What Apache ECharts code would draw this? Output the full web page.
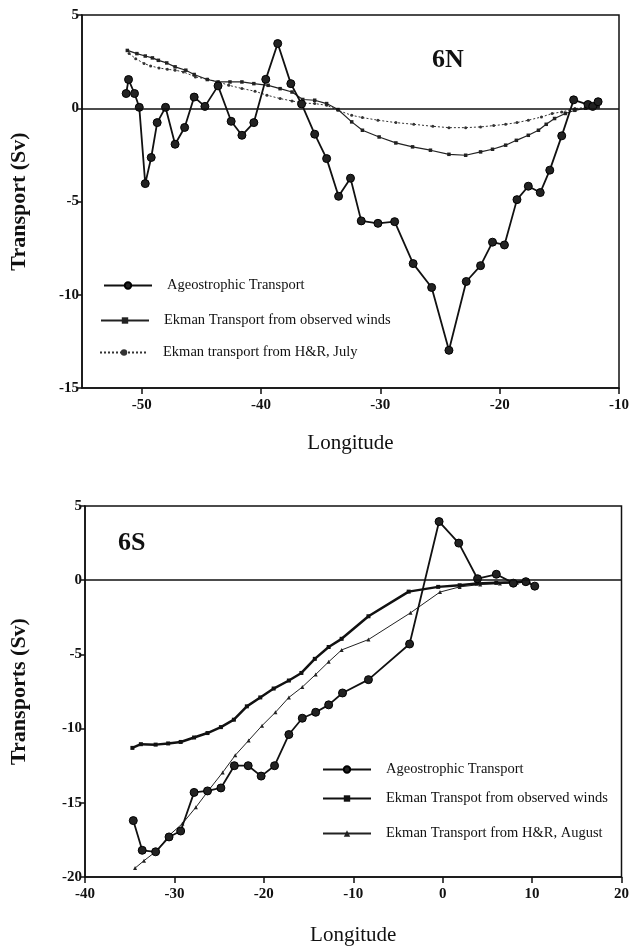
<!DOCTYPE html>
<html>
<head>
<meta charset="utf-8">
<script src="https://cdn.jsdelivr.net/npm/echarts@6/dist/echarts.min.js"></script>
<style>html,body{margin:0;padding:0;background:#fff;}#c{width:632px;height:950px;}</style>
</head>
<body>
<div id="c"></div>
<script>
// ---- 6N panel ----
const lonAgeoN = [-51.3, -51.1, -50.6, -50.2, -49.7, -49.2, -48.7, -48.0, -47.2, -46.4, -45.6, -44.7, -43.6, -42.5, -41.6, -40.6, -39.6, -38.6, -37.5, -36.6, -35.5, -34.5, -33.5, -32.5, -31.6, -30.2, -28.8, -27.25, -25.7, -24.25, -22.8, -21.6, -20.6, -19.6, -18.55, -17.6, -16.6, -15.8, -14.8, -13.8, -12.6, -12.2, -11.75];
const valAgeoN = [0.79, 1.54, 0.79, 0.05, -4.04, -2.64, -0.77, 0.05, -1.93, -1.03, 0.6, 0.1, 1.2, -0.7, -1.45, -0.77, 1.55, 3.47, 1.32, 0.23, -1.39, -2.7, -4.72, -3.75, -6.04, -6.17, -6.08, -8.33, -9.61, -12.98, -9.29, -8.44, -7.18, -7.33, -4.9, -4.18, -4.52, -3.32, -1.48, 0.45, 0.2, 0.1, 0.35];

const lonObsN = [-51.2, -50.4, -49.7, -49.1, -48.6, -47.9, -47.2, -46.3, -45.6, -44.5, -43.6, -42.6, -41.6, -40.6, -39.4, -38.4, -37.4, -36.5, -35.5, -34.5, -33.55, -32.4, -31.5, -30.1, -28.7, -27.3, -25.8, -24.25, -22.85, -21.6, -20.6, -19.5, -18.6, -17.6, -16.75, -16.1, -15.4, -14.5, -13.7, -12.8, -11.75];
const valObsN = [3.1, 2.93, 2.8, 2.7, 2.57, 2.43, 2.22, 2.04, 1.81, 1.54, 1.41, 1.41, 1.41, 1.32, 1.23, 1.05, 0.87, 0.47, 0.43, 0.25, -0.07, -0.73, -1.18, -1.54, -1.86, -2.07, -2.25, -2.47, -2.52, -2.34, -2.2, -1.98, -1.72, -1.45, -1.18, -0.86, -0.55, -0.28, -0.11, 0.0, 0.07];

const lonHRN = [-51.05, -50.5, -49.8, -49.25, -48.55, -47.85, -47.2, -46.5, -45.5, -44.5, -43.55, -42.7, -41.6, -40.5, -39.5, -38.4, -37.4, -36.5, -35.5, -34.5, -33.55, -32.4, -31.5, -30.2, -28.7, -27.2, -25.6, -24.25, -22.85, -21.6, -20.5, -19.5, -18.55, -17.6, -16.5, -15.6, -14.8, -13.7, -12.7, -11.75];
const valHRN = [2.93, 2.66, 2.4, 2.27, 2.16, 2.09, 2.04, 1.95, 1.68, 1.56, 1.41, 1.23, 1.06, 0.91, 0.7, 0.52, 0.39, 0.28, 0.25, 0.16, -0.11, -0.38, -0.5, -0.64, -0.77, -0.86, -0.97, -1.04, -1.04, -1.0, -0.93, -0.86, -0.77, -0.64, -0.47, -0.28, -0.2, -0.02, 0.05, 0.1];

// ---- 6S panel ----
const lonAgeoS = [-34.6, -33.6, -32.1, -30.6, -29.3, -27.8, -26.3, -24.8, -23.3, -21.75, -20.3, -18.8, -17.2, -15.7, -14.2, -12.75, -11.2, -8.3, -3.7, -0.4, 1.8, 3.9, 6.0, 7.9, 9.3, 10.3];
const valAgeoS = [-16.2, -18.2, -18.3, -17.3, -16.9, -14.3, -14.2, -14.0, -12.5, -12.5, -13.2, -12.5, -10.4, -9.3, -8.9, -8.4, -7.6, -6.7, -4.3, 3.95, 2.5, 0.1, 0.4, -0.2, -0.1, -0.4];

const lonObsS = [-34.7, -33.75, -32.1, -30.7, -29.3, -27.8, -26.3, -24.8, -23.35, -21.9, -20.4, -18.9, -17.2, -15.8, -14.3, -12.75, -11.3, -8.3, -3.8, -0.5, 1.9, 3.8, 6.0, 7.9, 9.4];
const valObsS = [-11.3, -11.05, -11.08, -11.0, -10.9, -10.6, -10.3, -9.9, -9.4, -8.5, -7.9, -7.3, -6.76, -6.25, -5.3, -4.5, -3.95, -2.43, -0.77, -0.45, -0.34, -0.23, -0.18, -0.14, -0.05];

const lonHRS = [-34.4, -33.4, -31.9, -30.6, -29.1, -27.6, -26.1, -24.6, -23.2, -21.7, -20.2, -18.7, -17.2, -15.7, -14.2, -12.75, -11.3, -8.3, -3.6, -0.3, 1.9, 4.2, 6.4, 8.3, 9.7];
const valHRS = [-19.4, -18.9, -18.2, -17.2, -16.4, -15.3, -14.1, -12.95, -11.8, -10.8, -9.8, -8.9, -7.9, -7.2, -6.35, -5.5, -4.7, -4.0, -2.2, -0.8, -0.45, -0.29, -0.23, -0.18, -0.1];

const xTicksN = [-50, -40, -30, -20, -10];
const xTicksS = [-40, -30, -20, -10, 0, 10, 20];

const NAME_AGEO = 'Ageostrophic Transport';
const NAME_OBS_N = 'Ekman Transport from observed winds';
const NAME_HR_N = 'Ekman transport from H&R, July';
const NAME_OBS_S = 'Ekman Transpot from observed winds';
const NAME_HR_S = 'Ekman Transport from H&R, August';

function pairs(xs, ys) { return xs.map((x, i) => [x, ys[i]]); }

const FONT = '"Liberation Serif", "DejaVu Serif", serif';
const BLACK = '#111';

function xAxisDef(gi, min, max, ticks, nameGap) {
  return {
    type: 'value', gridIndex: gi, min: min, max: max,
    name: 'Longitude', nameLocation: 'middle', nameGap: nameGap,
    nameTextStyle: { fontFamily: FONT, fontSize: 21, color: BLACK },
    axisLine: { show: true, onZero: false, lineStyle: { color: BLACK, width: 1.5 } },
    axisTick: { show: true, inside: false, length: 6, customValues: ticks, lineStyle: { color: BLACK, width: 1.5 } },
    axisLabel: { customValues: ticks, margin: 10, fontFamily: FONT, fontWeight: 'bold', fontSize: 15, color: BLACK },
    splitLine: { show: false }
  };
}
function yAxisDef(gi, min, max, name, nameGap) {
  return {
    type: 'value', gridIndex: gi, min: min, max: max, interval: 5,
    name: name, nameLocation: 'middle', nameGap: nameGap, nameRotate: 90,
    nameTextStyle: { fontFamily: FONT, fontSize: 22, fontWeight: 'bold', color: BLACK },
    axisLine: { show: true, onZero: false, lineStyle: { color: BLACK, width: 1.5 } },
    axisTick: { show: true, inside: false, length: 4, lineStyle: { color: BLACK, width: 1.5 } },
    axisLabel: { margin: 3, fontFamily: FONT, fontWeight: 'bold', fontSize: 15, color: BLACK },
    splitLine: { show: false }
  };
}
function legendDef(name, left, top) {
  return {
    data: [name], left: left, top: top, padding: 0, itemWidth: 48, itemHeight: 8,
    selectedMode: false,
    textStyle: { fontFamily: FONT, fontSize: 14.5, color: BLACK, padding: [0, 0, 0, 10] }
  };
}
const zeroLine = {
  silent: true, symbol: 'none', label: { show: false },
  lineStyle: { color: BLACK, width: 1.5, type: 'solid' },
  data: [{ yAxis: 0 }]
};

const chart = echarts.init(document.getElementById('c'), null, { renderer: 'canvas' });
chart.setOption({
  animation: false,
  backgroundColor: '#fff',
  title: [
    { text: '6N', left: 432, top: 47, padding: 0, textStyle: { fontFamily: FONT, fontSize: 26, fontWeight: 'bold', color: BLACK } },
    { text: '6S', left: 118, top: 530, padding: 0, textStyle: { fontFamily: FONT, fontSize: 26, fontWeight: 'bold', color: BLACK } }
  ],
  grid: [
    { left: 81, top: 15, width: 539, height: 373, show: true, borderColor: BLACK, borderWidth: 1.5, backgroundColor: 'transparent' },
    { left: 84, top: 506, width: 538, height: 371, show: true, borderColor: BLACK, borderWidth: 1.5, backgroundColor: 'transparent' }
  ],
  xAxis: [
    xAxisDef(0, -55, -10, xTicksN, 45),
    xAxisDef(1, -40, 20, xTicksS, 48)
  ],
  yAxis: [
    yAxisDef(0, -15, 5, 'Transport (Sv)', 52),
    yAxisDef(1, -20, 5, 'Transports (Sv)', 55)
  ],
  legend: [
    legendDef(NAME_AGEO, 103, 278),
    legendDef(NAME_OBS_N, 100, 313),
    legendDef(NAME_HR_N, 99, 345),
    legendDef(NAME_AGEO, 322, 762),
    legendDef(NAME_OBS_S, 322, 791),
    legendDef(NAME_HR_S, 322, 826)
  ],
  series: [
    {
      name: NAME_HR_N, type: 'line', xAxisIndex: 0, yAxisIndex: 0,
      data: pairs(lonHRN, valHRN), symbol: 'circle', symbolSize: 3, showAllSymbol: true,
      lineStyle: { color: '#333', width: 1, type: [2, 2] }, itemStyle: { color: '#333' }, z: 2
    },
    {
      name: NAME_OBS_N, type: 'line', xAxisIndex: 0, yAxisIndex: 0,
      data: pairs(lonObsN, valObsN), symbol: 'rect', symbolSize: 3.5, showAllSymbol: true,
      lineStyle: { color: '#222', width: 1.2 }, itemStyle: { color: '#222' }, z: 3
    },
    {
      name: NAME_AGEO, type: 'line', xAxisIndex: 0, yAxisIndex: 0,
      data: pairs(lonAgeoN, valAgeoN), symbol: 'circle', symbolSize: 8, showAllSymbol: true,
      lineStyle: { color: BLACK, width: 1.8 }, itemStyle: { color: '#222', borderColor: '#000', borderWidth: 1 }, z: 4,
      markLine: zeroLine
    },
    {
      name: NAME_HR_S, type: 'line', xAxisIndex: 1, yAxisIndex: 1,
      data: pairs(lonHRS, valHRS), symbol: 'triangle', symbolSize: 4, showAllSymbol: true,
      lineStyle: { color: '#222', width: 1 }, itemStyle: { color: '#222' }, z: 2
    },
    {
      name: NAME_OBS_S, type: 'line', xAxisIndex: 1, yAxisIndex: 1,
      data: pairs(lonObsS, valObsS), symbol: 'rect', symbolSize: 4, showAllSymbol: true,
      lineStyle: { color: '#111', width: 2.5 }, itemStyle: { color: '#111' }, z: 3
    },
    {
      name: NAME_AGEO, type: 'line', xAxisIndex: 1, yAxisIndex: 1,
      data: pairs(lonAgeoS, valAgeoS), symbol: 'circle', symbolSize: 8, showAllSymbol: true,
      lineStyle: { color: BLACK, width: 1.8 }, itemStyle: { color: '#222', borderColor: '#000', borderWidth: 1 }, z: 4,
      markLine: zeroLine
    }
  ]
});
</script>
</body>
</html>
